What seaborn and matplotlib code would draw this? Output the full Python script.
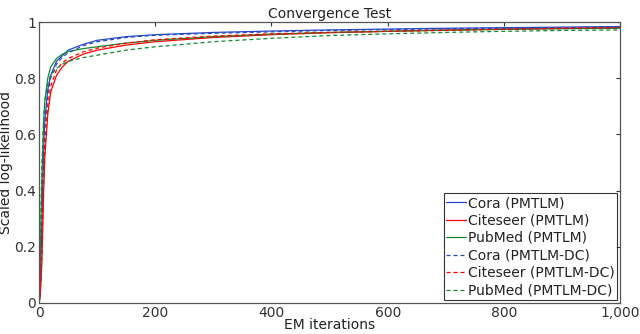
import matplotlib
matplotlib.use("Agg")
import matplotlib.pyplot as plt
import seaborn as sns
import numpy as np
import pandas as pd

# Data setup
iters = [0, 2, 5, 8, 10, 15, 20, 30, 40, 50, 75, 100, 150, 200,
         300, 400, 500, 600, 700, 800, 900, 1000]
cora = [0, 0.05, 0.30, 0.55, 0.65, 0.76, 0.81, 0.86, 0.88, 0.90, 0.92, 0.935,
        0.948, 0.955, 0.963, 0.968, 0.972, 0.975, 0.978, 0.980, 0.982, 0.984]
citeseer = [0, 0.02, 0.15, 0.40, 0.52, 0.67, 0.75, 0.81, 0.84, 0.86, 0.885, 0.90,
            0.918, 0.930, 0.945, 0.955, 0.962, 0.967, 0.972, 0.975, 0.978, 0.980]
pubmed = [0, 0.15, 0.45, 0.65, 0.72, 0.80, 0.84, 0.87, 0.885, 0.895, 0.905, 0.912,
          0.925, 0.935, 0.948, 0.957, 0.963, 0.967, 0.971, 0.974, 0.976, 0.978]
cora_dc = [0, 0.04, 0.28, 0.52, 0.62, 0.74, 0.80, 0.85, 0.875, 0.89, 0.915, 0.93,
           0.945, 0.953, 0.960, 0.965, 0.970, 0.973, 0.976, 0.978, 0.980, 0.982]
citeseer_dc = [0, 0.03, 0.20, 0.45, 0.56, 0.70, 0.77, 0.83, 0.855, 0.87, 0.893, 0.907,
               0.925, 0.937, 0.950, 0.958, 0.963, 0.967, 0.970, 0.974, 0.977, 0.980]
pubmed_dc = [0, 0.20, 0.50, 0.66, 0.72, 0.78, 0.81, 0.835, 0.85, 0.86, 0.873, 0.882,
             0.900, 0.912, 0.930, 0.942, 0.952, 0.958, 0.963, 0.967, 0.970, 0.972]

labels = ["Cora (PMTLM)", "Citeseer (PMTLM)", "PubMed (PMTLM)",
          "Cora (PMTLM-DC)", "Citeseer (PMTLM-DC)", "PubMed (PMTLM-DC)"]
series = [cora, citeseer, pubmed, cora_dc, citeseer_dc, pubmed_dc]
colors = ["#2848c8", "#ff0000", "#108a30", "#2848c8", "#ff0000", "#108a30"]
dashed = (0, (3.2, 2.4))
styles = ["-", "-", "-", dashed, dashed, dashed]

sns.set_style("white")
plt.rcParams["font.family"] = ["DejaVu Sans"]

fig = plt.figure(figsize=(6.4, 3.34), dpi=100)
ax = fig.add_axes([0.061, 0.093, 0.908, 0.841])

for lab, vals, c, ls in zip(labels, series, colors, styles):
    df = pd.DataFrame({"iter": iters, "ll": vals})
    sns.lineplot(data=df, x="iter", y="ll", ax=ax, color=c, linestyle=ls,
                 linewidth=0.9, label=lab)

ax.set_xlim(0, 1000)
ax.set_ylim(0, 1)
ax.set_xticks([0, 200, 400, 600, 800, 1000])
ax.set_xticklabels(["0", "200", "400", "600", "800", "1,000"])
ax.set_yticks([0, 0.2, 0.4, 0.6, 0.8, 1])
ax.set_yticklabels(["0", "0.2", "0.4", "0.6", "0.8", "1"])
ax.tick_params(direction="in", length=3, width=0.8, top=True, right=True,
               labelsize=10, colors="#333333", pad=2)
for s in ax.spines.values():
    s.set_color("#555555")
    s.set_linewidth(0.9)

ax.set_title("Convergence Test", fontsize=10, pad=3, color="#222222")
ax.set_xlabel("EM iterations", fontsize=10, labelpad=-1, color="#222222")
ax.set_ylabel("Scaled log-likelihood", fontsize=10, labelpad=1, color="#222222")

leg = ax.legend(loc="lower right", fontsize=10, frameon=True, fancybox=False,
                edgecolor="black", borderaxespad=0.2, handlelength=1.45,
                labelspacing=0.25, handletextpad=0.1, borderpad=0.2)
leg.get_frame().set_linewidth(0.8)
for t in leg.get_texts():
    t.set_color("#222222")

plt.savefig("out.png", dpi=100)
